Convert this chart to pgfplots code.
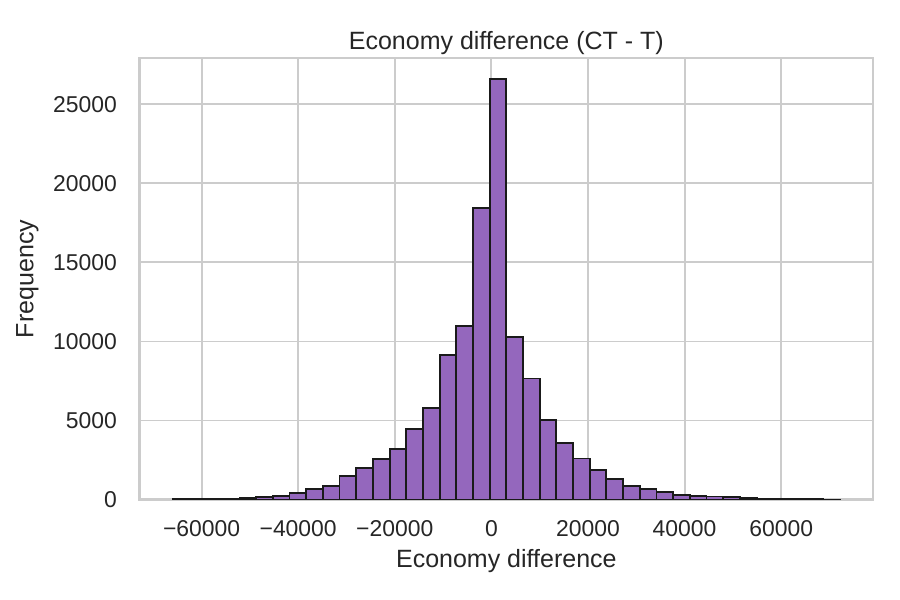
\documentclass[border=0pt]{standalone}
\usepackage{fontspec}
\setmainfont{Liberation Sans}
\usepackage{pgfplots}
\pgfplotsset{compat=1.18}
\definecolor{txt}{HTML}{262626}
\definecolor{gridc}{HTML}{CCCCCC}
\definecolor{barc}{HTML}{9467BD}
\definecolor{edgec}{HTML}{1A1A1A}
\begin{document}
\begin{tikzpicture}
\path[use as bounding box] (0,0) rectangle (432bp,288bp);
\begin{axis}[
  at={(66.9bp,48.2bp)}, anchor=south west,
  scale only axis, width=352.3bp, height=211.8bp,
  xmin=-72877, xmax=79077, ymin=0, ymax=27909,
  axis line style={gridc, line width=1.1bp},
  grid=major, major grid style={gridc, line width=0.9bp},
  major tick length=0pt,
  xtick={-60000,-40000,-20000,0,20000,40000,60000},
  xticklabels={−60000,−40000,−20000,0,20000,40000,60000},
  ytick={0,5000,10000,15000,20000,25000},
  scaled ticks=false,
  /pgf/number format/.cd, 1000 sep={}, assume math mode=true, /pgfplots/.cd,
  tick label style={font=\fontsize{11bp}{13bp}\selectfont, text=txt, inner sep=0pt},
  xticklabel style={anchor=base, yshift=-17.9bp},
  yticklabel style={anchor=east, xshift=-10.6bp},
  every axis title shift=0pt,
  title={Economy difference (CT - T)},
  title style={font=\fontsize{12bp}{14bp}\selectfont, text=txt, inner sep=0pt,
    at={(axis description cs:0.5,1.0204)}, anchor=base},
  xlabel={Economy difference},
  xlabel style={font=\fontsize{12bp}{14bp}\selectfont, text=txt, inner sep=0pt,
    at={(axis description cs:0.5,-0.1537)}, anchor=base},
  ylabel={Frequency},
  ylabel style={font=\fontsize{12bp}{14bp}\selectfont, text=txt, inner sep=0pt,
    at={(axis description cs:-0.1444,0.5)}, anchor=base},
]
\addplot[ybar interval, fill=barc, draw=edgec, line width=0.9bp] coordinates {
(-65970,15) (-62516.5,25) (-59063,60) (-55609.5,70) (-52156,125) (-48702.5,190)
(-45249,250) (-41795.5,430) (-38342,645) (-34888.5,872) (-31435,1505)
(-27981.5,2010) (-24528,2580) (-21074.5,3210) (-17621,4475) (-14167.5,5800)
(-10714,9170) (-7260.5,11000) (-3807,18450) (-353.5,26580) (3100,10270)
(6553.5,7660) (10007,5010) (13460.5,3580) (16914,2600) (20367.5,1870)
(23821,1305) (27274.5,885) (30728,670) (34181.5,460) (37635,310)
(41088.5,200) (44542,195) (47995.5,140) (51449,75) (54902.5,70)
(58356,25) (61809.5,15) (65263,12) (68716.5,8) (72170,8)
};
\end{axis}
\end{tikzpicture}
\end{document}
